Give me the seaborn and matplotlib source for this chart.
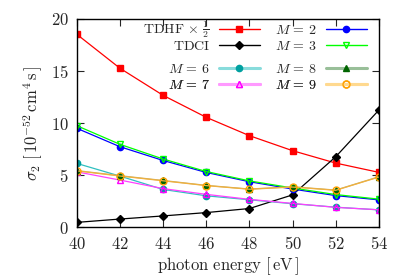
import matplotlib
matplotlib.use("Agg")
import matplotlib.pyplot as plt
import seaborn as sns
import pandas as pd
from matplotlib.lines import Line2D

energy = [40, 42, 44, 46, 48, 50, 52, 54]
tdhf_half = [18.53, 15.27, 12.67, 10.56, 8.80, 7.36, 6.17, 5.28]
tdci = [0.48, 0.80, 1.10, 1.42, 1.81, 3.12, 6.78, 11.26]
m2 = [9.51, 7.74, 6.42, 5.27, 4.38, 3.68, 3.05, 2.64]
m3 = [9.76, 7.97, 6.56, 5.36, 4.46, 3.78, 3.15, 2.71]
m6 = [6.14, 4.92, 3.64, 3.03, 2.65, 2.27, 1.94, 1.68]
m7 = [5.33, 4.54, 3.72, 3.17, 2.69, 2.30, 1.92, 1.69]
m8 = [5.45, 4.96, 4.50, 4.03, 3.68, 3.90, 3.58, 4.86]
m9 = [5.42, 4.93, 4.47, 4.01, 3.66, 3.87, 3.56, 4.83]

xticks = [40, 42, 44, 46, 48, 50, 52, 54]
yticks = [0, 5, 10, 15, 20]

series = [
    ("TDHF", tdhf_half),
    ("TDCI", tdci),
    ("M2", m2),
    ("M3", m3),
    ("M6", m6),
    ("M7", m7),
    ("M8", m8),
    ("M9", m9),
]
labels = {
    "TDHF": r"$\mathrm{TDHF}\,\times\,\frac{1}{2}$",
    "TDCI": r"$\mathrm{TDCI}$",
    "M2": r"$M\,=\,2$",
    "M3": r"$M\,=\,3$",
    "M6": r"$M\,=\,6$",
    "M7": r"$M\,=\,7$",
    "M8": r"$M\,=\,8$",
    "M9": r"$M\,=\,9$",
}
# (line colour, marker, marker face, marker edge, legend line colour, legend lw)
styles = {
    "TDHF": ("#ff0000", "s", "#ff0000", "#ff0000", "#ff0000", 1.0),
    "TDCI": ("#000000", "D", "#000000", "#000000", "#000000", 1.0),
    "M2": ("#0000ff", "o", "#0000ff", "#0000ff", "#0000ff", 1.0),
    "M3": ("#00ff00", "v", "none", "#00ff00", "#00ff00", 1.0),
    "M6": ("#30c0c0", "o", "#00a0a0", "#00a0a0", "#88dcdc", 2.2),
    "M7": ("#ff40ff", "^", "none", "#ff00ff", "#ff99ff", 2.2),
    "M8": ("#c8b060", "^", "#006400", "#006400", "#99bf99", 2.2),
    "M9": ("#f0b040", "o", "none", "#ffa000", "#ffd98f", 2.2),
}
msizes = {"TDHF": 4.2, "TDCI": 4.0, "M2": 4.5, "M3": 4.8, "M6": 4.5, "M7": 4.8, "M8": 4.5, "M9": 5.0}

rows = []
for key, vals in series:
    for e, v in zip(energy, vals):
        rows.append({"energy": e, "sigma": v, "series": key})
df = pd.DataFrame(rows)

sns.set_style("ticks")
plt.rcParams["mathtext.fontset"] = "cm"
plt.rcParams["font.family"] = ["DejaVu Serif"]

fig = plt.figure(figsize=(3.98, 2.79), dpi=100)
ax = fig.add_axes([0.193, 0.185, 0.759, 0.747])

for key, _ in series:
    sub = df[df["series"] == key]
    lc, mk, mf, me, _, _ = styles[key]
    sns.lineplot(data=sub, x="energy", y="sigma", ax=ax, color=lc, lw=0.9,
                 marker=mk, markersize=msizes[key], markerfacecolor=mf,
                 markeredgecolor=me, markeredgewidth=1.0, legend=False)

ax.set_xlim(40, 54)
ax.set_ylim(0, 20)
ax.set_xticks(xticks)
ax.set_yticks(yticks)
ax.set_xticklabels([f"${t}$" for t in xticks], fontsize=12)
ax.set_yticklabels([f"${t}$" for t in yticks], fontsize=12)
ax.tick_params(direction="in", top=True, right=True, length=5, width=0.8, pad=6)
for s in ax.spines.values():
    s.set_visible(True)
    s.set_linewidth(1.0)
    s.set_color("black")

ax.set_xlabel(r"$\mathrm{photon\ energy\ [\,eV\,]}$", fontsize=12, labelpad=2)
ax.set_ylabel(r"$\sigma_2\ [\,10^{-52}\,\mathrm{cm}^4\,\mathrm{s}\,]$", fontsize=12, labelpad=4)


def handle(key):
    lc, mk, mf, me, llc, llw = styles[key]
    return Line2D([], [], color=llc, lw=llw, marker=mk, markersize=msizes[key],
                  markerfacecolor=mf, markeredgecolor=me, markeredgewidth=1.0)


common = dict(ncol=2, markerfirst=False, frameon=False, fontsize=10,
              handlelength=2.95, handletextpad=0.65, columnspacing=1.1,
              borderaxespad=0.0, borderpad=0.0, loc="center right")
legend_rows = [(["TDHF", "M2"], 0.947), (["TDCI", "M3"], 0.870),
               (["M6", "M8"], 0.760), (["M7", "M9"], 0.683)]
for keys, yc in legend_rows:
    leg = ax.legend([handle(k) for k in keys], [labels[k] for k in keys],
                    bbox_to_anchor=(0.9600, yc), **common)
    ax.add_artist(leg)

fig.savefig("out.png", dpi=100)
